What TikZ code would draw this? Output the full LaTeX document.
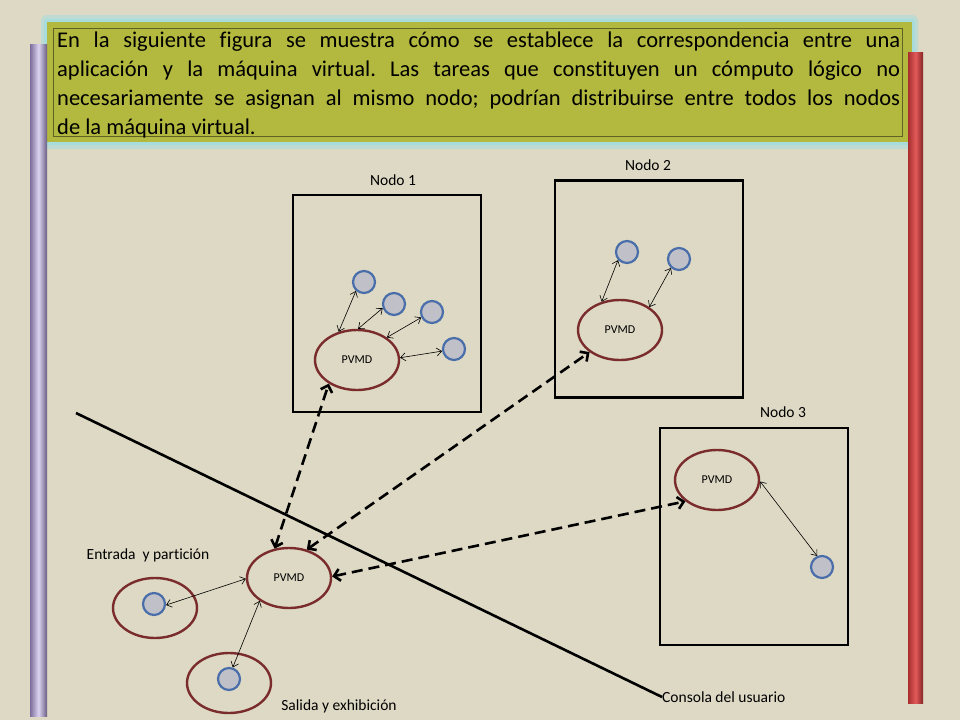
\documentclass[tikz,border=0pt]{standalone}
\usepackage{fontspec}
\setmainfont[Ligatures=NoCommon]{Carlito}
\usetikzlibrary{shapes.geometric, positioning, calc, arrows.meta}
\frenchspacing
\definecolor{paper}{HTML}{DDD9C4}
\definecolor{glow}{HTML}{A8DCDC}
\definecolor{olivefill}{HTML}{B3B83E}
\definecolor{olivedark}{HTML}{5E6224}
\definecolor{pvred}{HTML}{7A2C2C}
\definecolor{taskblue}{HTML}{4A6EAA}
\definecolor{taskgray}{HTML}{C0C0C8}
\definecolor{lilacdark}{HTML}{7C6E9A}
\definecolor{lilaclight}{HTML}{DCD4F0}
\definecolor{reddark}{HTML}{A82E2E}
\definecolor{redlight}{HTML}{E25A5A}
\tikzstyle{nodebox} = [draw, line width=2.6pt, minimum width=188pt,
        minimum height=217pt]
\tikzstyle{pvmd} = [draw=pvred, ellipse, line width=2.4pt, minimum width=84pt,
        minimum height=60pt, inner sep=0pt, font=\fontsize{12}{14}\selectfont]
\tikzstyle{task} = [draw=taskblue, fill=taskgray, circle, line width=2.2pt,
        minimum size=22pt, inner sep=0pt]
\tikzstyle{lbl} = [font=\fontsize{15.5}{18}\selectfont, inner sep=0pt]
\tikzset{link/.style={<->, >={Straight Barb[length=5pt,width=8pt]}, line width=0.6pt},
    vmlink/.style={<->, >={Straight Barb[length=6pt,width=12pt]}, line width=2.6pt,
        dash pattern=on 11pt off 6pt}
}
\begin{document}
\begin{tikzpicture}[x=1pt, y=-1pt]
    \fill[paper] (0,0) rectangle (960,720);
    \useasboundingbox (0,0) rectangle (960,720);

    % header
    \fill[glow!60!paper, rounded corners=6pt] (41,15) rectangle (918,149);
    \fill[glow, rounded corners=3pt] (44,19) rectangle (915,145);
    \fill[olivefill] (47,22) rectangle (912,142);
    \node[draw=olivedark, line width=0.8pt, minimum width=849pt, minimum height=108pt] (frame) at (477.5,82) {};
    \node[anchor=north west, text width=843pt, align=justify, inner sep=0pt,
        font=\fontsize{22.5}{29}\selectfont] (intro) at (57,32)
        {En la siguiente figura se muestra cómo se establece la correspondencia entre una\linebreak
        aplicación y la máquina virtual. Las tareas que constituyen un cómputo lógico no\linebreak
        necesariamente se asignan al mismo nodo; podrían distribuirse entre todos los nodos\linebreak
        de la máquina virtual.};

    % side bars
    \shade[left color=lilacdark, right color=lilacdark!85!black, middle color=lilaclight] (30,44) rectangle (47,716);
    \shade[left color=reddark, right color=reddark!80!black, middle color=redlight] (908,52) rectangle (923,703);

    % machines
    \node [nodebox] (N1) at (387,303.5) {};
    \node [nodebox] (N2) at (649,289) {};
    \node [nodebox] (N3) at (754,536.5) {};
    \node [lbl] (N1lbl) at (393,180) {Nodo 1};
    \node [lbl] (N2lbl) at (648,165) {Nodo 2};
    \node [lbl] (N3lbl) at (783,412) {Nodo 3};

    % daemons
    \node [pvmd] (pv1) at (357,360) {PVMD};
    \node [pvmd] (pv2) at (620,330) {PVMD};
    \node [pvmd] (pv3) at (717,480) {PVMD};
    \node [pvmd] (pvb) at (289,578) {PVMD};
    \node [pvmd] (inE) at (155,608) {};
    \node [pvmd] (outE) at (229,683) {};

    % tasks
    \node [task] (t11) at (364,282) {};
    \node [task] (t12) at (394,304) {};
    \node [task] (t13) at (432,312) {};
    \node [task] (t14) at (454,349) {};
    \node [task] (t21) at (627,252) {};
    \node [task] (t22) at (679,259) {};
    \node [task] (t31) at (822,567) {};
    \node [task] (tin) at (154,604) {};
    \node [task] (tout) at (229,679) {};

    \node [lbl] (inlbl) at (148,555) {Entrada \ y partición};
    \node [lbl] (outlbl) at (339,706) {Salida y exhibición};

    % console line
    \coordinate (cs) at (76,413);
    \node [lbl, anchor=west] (cons) at (662,697) {Consola del usuario};
    \draw[line width=2.6pt] (cs) -- (cons.west);

    % local links
    \draw[link] (pv1.123) -- (t11.228);
    \draw[link] (pv1.88) -- (t12.200);
    \draw[link] (pv1.37) -- (t13.207);
    \draw[link] (pv1.3) -- (t14.190);
    \draw[link] (pv2.123) -- (t21.222);
    \draw[link] (pv2.38) -- (t22.228);
    \draw[link] (pv3.-2) -- (t31.114);
    \draw[link] (pvb.181) -- (tin.355);
    \draw[link] (pvb.218) -- (tout.72);

    % virtual machine links
    \draw[vmlink] (pvb.116) -- (pv1.220);
    \draw[vmlink] (pvb.58) -- (pv2.216);
    \draw[vmlink] (pvb.2) -- (pv3.214);
\end{tikzpicture}
\end{document}
